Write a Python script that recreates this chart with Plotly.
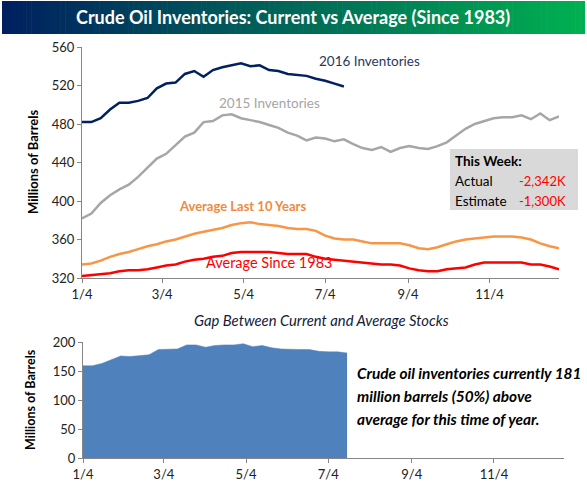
import plotly.graph_objects as go
import pandas as pd

W, H = 587, 491

# ---- data (weekly, starting 2016-01-04) ----
dates = pd.date_range("2016-01-04", periods=52, freq="7D")

inv_2016 = [482, 482, 486, 495, 502, 502, 504, 507, 517, 522, 523, 532, 535, 529,
            536, 539, 541, 543, 540, 541, 536, 535, 532, 531, 530, 527, 525, 522, 519]

inv_2015 = [382, 387, 398, 406, 412, 417, 425, 434, 444, 449, 458, 467, 471, 482,
            483, 489, 490, 486, 484, 482, 479, 476, 471, 468, 463, 466, 465, 462,
            464, 459, 455, 453, 456, 451, 455, 457, 455, 454, 457, 461, 468, 475,
            480, 483, 486, 487, 487, 489, 485, 491, 484, 488]

avg_10yr = [334, 335, 338, 342, 345, 347, 350, 353, 355, 358, 360, 363, 366, 368,
            370, 372, 375, 377, 378, 376, 375, 374, 372, 371, 371, 369, 364, 361,
            360, 360, 358, 356, 356, 356, 356, 354, 351, 350, 352, 355, 358, 360,
            361, 362, 363, 363, 363, 362, 360, 356, 353, 351]

avg_1983 = [322, 323, 324, 325, 327, 328, 328, 329, 331, 333, 334, 337, 339, 340,
            342, 343, 346, 347, 347, 347, 347, 346, 345, 345, 345, 342, 340, 339,
            338, 337, 336, 335, 334, 334, 333, 330, 328, 327, 327, 329, 330, 331,
            334, 336, 336, 336, 336, 336, 334, 334, 332, 329]

gap = [159, 159, 163, 170, 176, 175, 177, 178, 187, 188, 188, 195, 195, 191,
       194, 195, 195, 197, 192, 194, 190, 188, 187, 187, 187, 184, 183, 183, 181]

x_tickvals = ["2016-01-04", "2016-03-04", "2016-05-04", "2016-07-04", "2016-09-04", "2016-11-04"]
x_ticktext = ["1/4", "3/4", "5/4", "7/4", "9/4", "11/4"]
x_range = ["2016-01-04", "2016-12-26"]

FONT = "Lato"


def px(x):
    return x / W


def py(y):
    return 1 - y / H


fig = go.Figure()

# top chart lines
fig.add_trace(go.Scatter(x=dates, y=avg_1983, mode="lines", line=dict(color="#ff0000", width=2.5),
                         xaxis="x", yaxis="y", name="Average Since 1983"))
fig.add_trace(go.Scatter(x=dates, y=avg_10yr, mode="lines", line=dict(color="#f79646", width=2.5),
                         xaxis="x", yaxis="y", name="Average Last 10 Years"))
fig.add_trace(go.Scatter(x=dates, y=inv_2015, mode="lines", line=dict(color="#a6a6a6", width=2.5),
                         xaxis="x", yaxis="y", name="2015 Inventories"))
fig.add_trace(go.Scatter(x=dates[:len(inv_2016)], y=inv_2016, mode="lines",
                         line=dict(color="#002060", width=2.5),
                         xaxis="x", yaxis="y", name="2016 Inventories"))

# bottom area
fig.add_trace(go.Scatter(x=dates[:len(gap)], y=gap, mode="lines", fill="tozeroy",
                         fillcolor="#4f81bd", line=dict(color="#4f81bd", width=0.5),
                         xaxis="x2", yaxis="y2", name="Gap"))

axis_common = dict(showgrid=False, zeroline=False, showline=True, linecolor="#868686",
                   linewidth=1, ticks="outside", tickcolor="#868686", ticklen=4,
                   automargin=False,
                   tickfont=dict(family=FONT, size=13, color="#222222"))

fig.update_layout(
    width=W, height=H,
    margin=dict(l=0, r=0, t=0, b=0, pad=0, autoexpand=False),
    paper_bgcolor="white", plot_bgcolor="white",
    showlegend=False,
    xaxis=dict(domain=[px(82), px(559)], anchor="y", type="date", range=x_range,
               tickvals=x_tickvals, ticktext=x_ticktext, **axis_common),
    yaxis=dict(domain=[py(278), py(47)], anchor="x", range=[320, 560],
               tickvals=[320, 360, 400, 440, 480, 520, 560], **axis_common),
    xaxis2=dict(domain=[px(83), px(564)], anchor="y2", type="date", range=x_range,
                tickvals=x_tickvals, ticktext=x_ticktext, **axis_common),
    yaxis2=dict(domain=[py(458), py(342)], anchor="x2", range=[0, 200],
                tickvals=[0, 50, 100, 150, 200], **axis_common),
)

shapes = []
# gradient title bar
x0, x1, y0, y1 = 2, 585, 1, 34
n = 120
c0 = (0, 32, 96)
c1 = (0, 176, 80)
for i in range(n):
    t = i / (n - 1)
    col = "rgb(%d,%d,%d)" % tuple(round(a + (b - a) * t) for a, b in zip(c0, c1))
    xa = x0 + (x1 - x0) * i / n
    xb = x0 + (x1 - x0) * (i + 1) / n + 0.6
    shapes.append(dict(type="rect", xref="paper", yref="paper", x0=px(xa), x1=px(min(xb, x1)),
                       y0=py(y1), y1=py(y0), fillcolor=col, line=dict(width=0), layer="below"))
# "This Week" box
shapes.append(dict(type="rect", xref="paper", yref="paper", x0=px(450), x1=px(578),
                   y0=py(210), y1=py(149), fillcolor="#d9d9d9", line=dict(width=0), layer="above"))
fig.update_layout(shapes=shapes)


def ann(text, x, y, size=14, color="#000000", xanchor="left", bold=False, italic=False,
        angle=0):
    t = text
    if bold:
        t = "<b>" + t + "</b>"
    if italic:
        t = "<i>" + t + "</i>"
    fig.add_annotation(text=t, x=px(x), y=py(y), xref="paper", yref="paper",
                       xanchor=xanchor, yanchor="middle", showarrow=False, textangle=angle,
                       font=dict(family=FONT, size=size, color=color))


ann("Crude Oil Inventories: Current vs Average (Since 1983)", 293, 17, size=18,
    color="#ffffff", xanchor="center", bold=True)
ann("2016 Inventories", 317, 61, size=13.5, color="#1f3864")
ann("2015 Inventories", 217, 103, size=13.5, color="#a6a6a6")
ann("Average Last 10 Years", 177, 206, size=13, color="#f08a3c", bold=True)
ann("Average Since 1983", 204, 262, size=14.5, color="#ff0000")
ann("This Week:", 453, 161, size=13.5, bold=True)
ann("Actual", 453, 181, size=13.5)
ann("-2,342K", 517, 181, size=13, color="#ff0000")
ann("Estimate", 453, 201, size=13.5)
ann("-1,300K", 517, 201, size=13, color="#ff0000")
ann("Gap Between Current and Average Stocks", 321, 320, size=14.8, color="#141a3a",
    xanchor="center", italic=True)
ann("Millions of Barrels", 33, 162, size=13, bold=True, xanchor="center", angle=-90)
ann("Millions of Barrels", 30, 400, size=12.5, bold=True, xanchor="center", angle=-90)
ann("Crude oil inventories currently 181", 355, 373, size=15.4, bold=True, italic=True)
ann("million barrels (50%) above", 355, 396, size=15.4, bold=True, italic=True)
ann("average for this time of year.", 355, 419, size=15.4, bold=True, italic=True)

fig.write_html("out.html", config={"displayModeBar": False},
               post_script="document.body.style.margin='0px';document.body.style.overflow='hidden';")
